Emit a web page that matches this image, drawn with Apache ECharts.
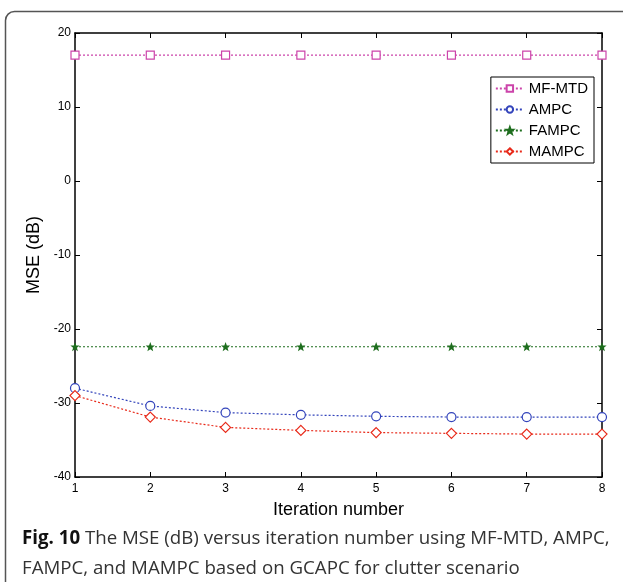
<!DOCTYPE html>
<html>
<head>
<meta charset="utf-8">
<script src="https://cdn.jsdelivr.net/npm/echarts@6/dist/echarts.min.js"></script>
<style>
  html, body { margin: 0; padding: 0; background: #fff; }
  #chart { width: 623px; height: 582px; }
</style>
</head>
<body>
<div id="chart"></div>
<script>
// 迭代次数
const iterations = [1, 2, 3, 4, 5, 6, 7, 8];
// 各方法的 MSE (dB)
const mfMtd = [17, 17, 17, 17, 17, 17, 17, 17];
const ampc = [-28.0, -30.4, -31.3, -31.6, -31.8, -31.9, -31.9, -31.9];
const fampc = [-22.4, -22.4, -22.4, -22.4, -22.4, -22.4, -22.4, -22.4];
const mampc = [-29.0, -31.9, -33.3, -33.7, -34.0, -34.1, -34.2, -34.2];
const yTicks = [-40, -30, -20, -10, 0, 10, 20];

const starPath = 'path://M0,-10 L2.4,-3.3 L9.5,-3.1 L3.9,1.3 L5.9,8.1 L0,4 L-5.9,8.1 L-3.9,1.3 L-9.5,-3.1 L-2.4,-3.3 Z';

const pair = (arr) => iterations.map((x, i) => [x, arr[i]]);

const mkSeries = (name, data, color, symbol, size, filled) => ({
  name: name,
  type: 'line',
  data: pair(data),
  symbol: symbol,
  symbolSize: size,
  showSymbol: true,
  lineStyle: { color: color, width: 1.2, type: [2, 2] },
  itemStyle: { color: filled ? color : '#fff', borderColor: color, borderWidth: 1.2 },
  emphasis: { disabled: true },
  animation: false
});

const tickFont = { fontFamily: 'Liberation Sans', fontSize: 12, color: '#000' };

let myChart = echarts.init(document.getElementById('chart'));
myChart.setOption({
  backgroundColor: '#fff',
  animation: false,
  grid: { left: 75, right: 21, top: 33, bottom: 105 },
  graphic: [
    {
      type: 'rect',
      shape: { x: 5.5, y: 11.5, width: 660, height: 640, r: 9 },
      style: { fill: 'none', stroke: '#555', lineWidth: 1.5 },
      z: -1
    },
    {
      type: 'text',
      left: 22,
      top: 524,
      style: {
        text: '{b|Fig. 10} The MSE (dB) versus iteration number using MF-MTD, AMPC,\nFAMPC, and MAMPC based on GCAPC for clutter scenario',
        font: '18.7px "Open Sans"',
        fill: '#333',
        lineHeight: 30,
        rich: {
          b: { font: 'bold 18.7px "Open Sans"', fill: '#111' }
        }
      }
    }
  ],
  legend: {
    right: 29,
    top: 77,
    orient: 'vertical',
    backgroundColor: '#fff',
    borderColor: '#000',
    borderWidth: 1,
    borderRadius: 0,
    padding: [4, 6, 4, 4],
    itemGap: 6,
    itemWidth: 28,
    itemHeight: 8,
    textStyle: { fontFamily: 'Liberation Sans', fontSize: 15, color: '#000' },
    data: ['MF-MTD', 'AMPC', 'FAMPC', 'MAMPC']
  },
  xAxis: [
    {
      type: 'value',
      min: 1, max: 8, interval: 1,
      name: 'Iteration number',
      nameLocation: 'middle',
      nameGap: 24,
      nameTextStyle: { fontFamily: 'Liberation Sans', fontSize: 18, color: '#000' },
      axisLine: { onZero: false, lineStyle: { color: '#000', width: 1.5 } },
      axisTick: { inside: true, length: 5, lineStyle: { color: '#000' } },
      axisLabel: Object.assign({ margin: 6 }, tickFont),
      splitLine: { show: false }
    },
    {
      type: 'value', position: 'top',
      min: 1, max: 8, interval: 1,
      axisLine: { onZero: false, lineStyle: { color: '#000', width: 1.5 } },
      axisTick: { inside: true, length: 5, lineStyle: { color: '#000' } },
      axisLabel: { show: false },
      splitLine: { show: false }
    }
  ],
  yAxis: [
    {
      type: 'value',
      min: yTicks[0], max: yTicks[yTicks.length - 1], interval: 10,
      name: 'MSE (dB)',
      nameLocation: 'middle',
      nameGap: 27,
      nameRotate: 90,
      nameTextStyle: { fontFamily: 'Liberation Sans', fontSize: 18, color: '#000' },
      axisLine: { onZero: false, lineStyle: { color: '#000', width: 1.5 } },
      axisTick: { inside: true, length: 5, lineStyle: { color: '#000' } },
      axisLabel: Object.assign({ margin: 4 }, tickFont),
      splitLine: { show: false }
    },
    {
      type: 'value', position: 'right',
      min: yTicks[0], max: yTicks[yTicks.length - 1], interval: 10,
      axisLine: { onZero: false, lineStyle: { color: '#000', width: 1.5 } },
      axisTick: { inside: true, length: 5, lineStyle: { color: '#000' } },
      axisLabel: { show: false },
      splitLine: { show: false }
    }
  ],
  series: [
    mkSeries('MF-MTD', mfMtd, '#cc44aa', 'rect', 8, false),
    mkSeries('AMPC', ampc, '#3344bb', 'circle', 9, false),
    mkSeries('FAMPC', fampc, '#1e6e1e', starPath, 6, true),
    mkSeries('MAMPC', mampc, '#e82a1a', 'diamond', 10, false)
  ]
});
</script>
</body>
</html>
